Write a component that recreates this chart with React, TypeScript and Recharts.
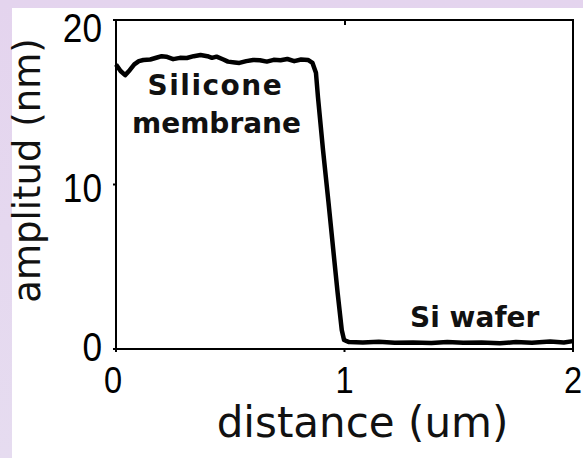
import React from 'react';
import { LineChart, Line, XAxis, YAxis, ReferenceDot, Label } from 'recharts';

// height profile across the membrane edge
const distance = [
  0, 0.02, 0.04, 0.06, 0.08, 0.1, 0.12, 0.15, 0.18, 0.2, 0.22, 0.25, 0.28, 0.31, 0.34, 0.37,
  0.4, 0.42, 0.44, 0.47, 0.49, 0.52, 0.54, 0.57, 0.6, 0.63, 0.66, 0.69, 0.72, 0.75, 0.78,
  0.81, 0.84, 0.86, 0.875, 0.884, 0.906, 0.93, 0.951, 0.97, 0.988, 0.998, 1.02, 1.08, 1.15,
  1.22, 1.3, 1.38, 1.45, 1.52, 1.6, 1.68, 1.75, 1.82, 1.9, 1.96, 2,
];
const amplitude = [
  17.3, 16.9, 16.65, 16.95, 17.3, 17.5, 17.57, 17.6, 17.72, 17.8, 17.77, 17.62, 17.7, 17.69, 17.8, 17.87,
  17.8, 17.7, 17.77, 17.6, 17.47, 17.42, 17.39, 17.5, 17.57, 17.55, 17.47, 17.58, 17.55, 17.63, 17.5,
  17.6, 17.57, 17.39, 16.8, 15.3, 12.1, 8.9, 6.0, 3.4, 1.16, 0.55, 0.42, 0.4, 0.44,
  0.38, 0.4, 0.36, 0.42, 0.38, 0.4, 0.35, 0.42, 0.38, 0.45, 0.4, 0.48,
];

const xTicks = [0, 1, 2];
const yTicks = [0, 10, 20];

const notes = [
  { x: 0.435, y: 15.44, text: 'Silicone', spacing: 1.5 },
  { x: 0.44, y: 13.13, text: 'membrane', spacing: 0 },
  { x: 1.57, y: 1.34, text: 'Si wafer', spacing: 0 },
];

const profile = distance.map((d, i) => ({ d, a: amplitude[i] }));

const TICK_FONT = 'Liberation Sans, Arial, sans-serif';
const TITLE_FONT = 'DejaVu Sans, Verdana, sans-serif';
const frame = { stroke: '#000', strokeWidth: 2 };

// chart geometry
const W = 583;
const H = 458;
const margin = { top: 20, right: 10, bottom: 9, left: 16 };
const Y_AXIS_W = 100;
const X_AXIS_H = 100;
const plotLeft = margin.left + Y_AXIS_W;
const plotTop = margin.top;
const plotW = W - plotLeft - margin.right;
const plotH = H - margin.top - margin.bottom - X_AXIS_H;

// labels sit a little off their ticks in this figure
const yLabelShift: Record<number, number> = { 0: -2, 10: 3, 20: 8 };

const YTick = (props: any) => {
  const { x, y, payload } = props;
  const dy = 14 + (yLabelShift[payload.value] ?? 0);
  return (
    <text
      transform={`translate(${x},${y + dy}) scale(0.88,1)`}
      textAnchor="end"
      fontFamily={TICK_FONT}
      fontSize={40}
      fill="#000"
    >
      {payload.value}
    </text>
  );
};

const XTick = (props: any) => {
  const { x, y, payload } = props;
  return (
    <text
      transform={`translate(${x - (payload.value === 0 ? 3 : 0)},${y + 39}) scale(0.88,1)`}
      textAnchor="middle"
      fontFamily={TICK_FONT}
      fontSize={37}
      fill="#000"
    >
      {payload.value}
    </text>
  );
};

const noteShape = (text: string, spacing: number) => (props: any) => (
  <text
    x={props.cx}
    y={props.cy}
    textAnchor="middle"
    fontFamily={TITLE_FONT}
    fontWeight="bold"
    fontSize={28}
    letterSpacing={spacing}
    fill="#111"
  >
    {text}
  </text>
);

const App = () => {
  return (
    <div
      style={{
        position: 'absolute',
        left: 0,
        top: 0,
        width: W,
        height: H,
        background: 'linear-gradient(180deg, #e4d4ee 0%, #e6dcf0 100%)',
      }}
    >
      <div style={{ position: 'absolute', left: 12, top: 8, right: 0, bottom: 0, background: '#fff' }} />
      <div style={{ position: 'absolute', left: 0, top: 0 }}>
        <LineChart width={W} height={H} data={profile} margin={margin}>
          <XAxis
            dataKey="d"
            type="number"
            domain={[0, 2]}
            ticks={xTicks}
            height={X_AXIS_H}
            axisLine={frame}
            tickSize={3}
            tickMargin={2}
            tickLine={frame}
            tick={<XTick />}
          >
            <Label
              content={({ viewBox }: any) => (
                <text
                  x={viewBox.x + viewBox.width / 2 + 18}
                  y={viewBox.y + 88}
                  textAnchor="middle"
                  fontFamily={TITLE_FONT}
                  fontSize={42}
                  fill="#111"
                >
                  distance (um)
                </text>
              )}
            />
          </XAxis>
          <YAxis
            type="number"
            domain={[0, 20]}
            ticks={yTicks}
            width={Y_AXIS_W}
            axisLine={frame}
            tickSize={3}
            tickMargin={11}
            tickLine={frame}
            tick={<YTick />}
          >
            <Label
              content={({ viewBox }: any) => {
                const cx = 40;
                const cy = viewBox.y + viewBox.height / 2 - 14;
                return (
                  <text
                    x={cx}
                    y={cy}
                    transform={`rotate(-90, ${cx}, ${cy})`}
                    textAnchor="middle"
                    fontFamily={TITLE_FONT}
                    fontSize={37}
                    fill="#111"
                  >
                    amplitud (nm)
                  </text>
                );
              }}
            />
          </YAxis>
          <Line
            type="linear"
            dataKey="a"
            stroke="#000"
            strokeWidth={4.5}
            strokeLinejoin="round"
            dot={false}
            isAnimationActive={false}
          />
          {notes.map((n) => (
            <ReferenceDot key={n.text} x={n.x} y={n.y} r={0} shape={noteShape(n.text, n.spacing)} />
          ))}
        </LineChart>
      </div>
      {/* box around the plot area, with the small inward tick on the top edge */}
      <div
        style={{
          position: 'absolute',
          left: plotLeft - 1,
          top: plotTop - 1,
          width: plotW + 2,
          height: plotH + 2,
          border: '2px solid #000',
          boxSizing: 'border-box',
          pointerEvents: 'none',
        }}
      />
      <div
        style={{
          position: 'absolute',
          left: plotLeft + plotW / 2 - 1,
          top: plotTop,
          width: 2,
          height: 5,
          background: '#000',
        }}
      />
    </div>
  );
};

export default App;
